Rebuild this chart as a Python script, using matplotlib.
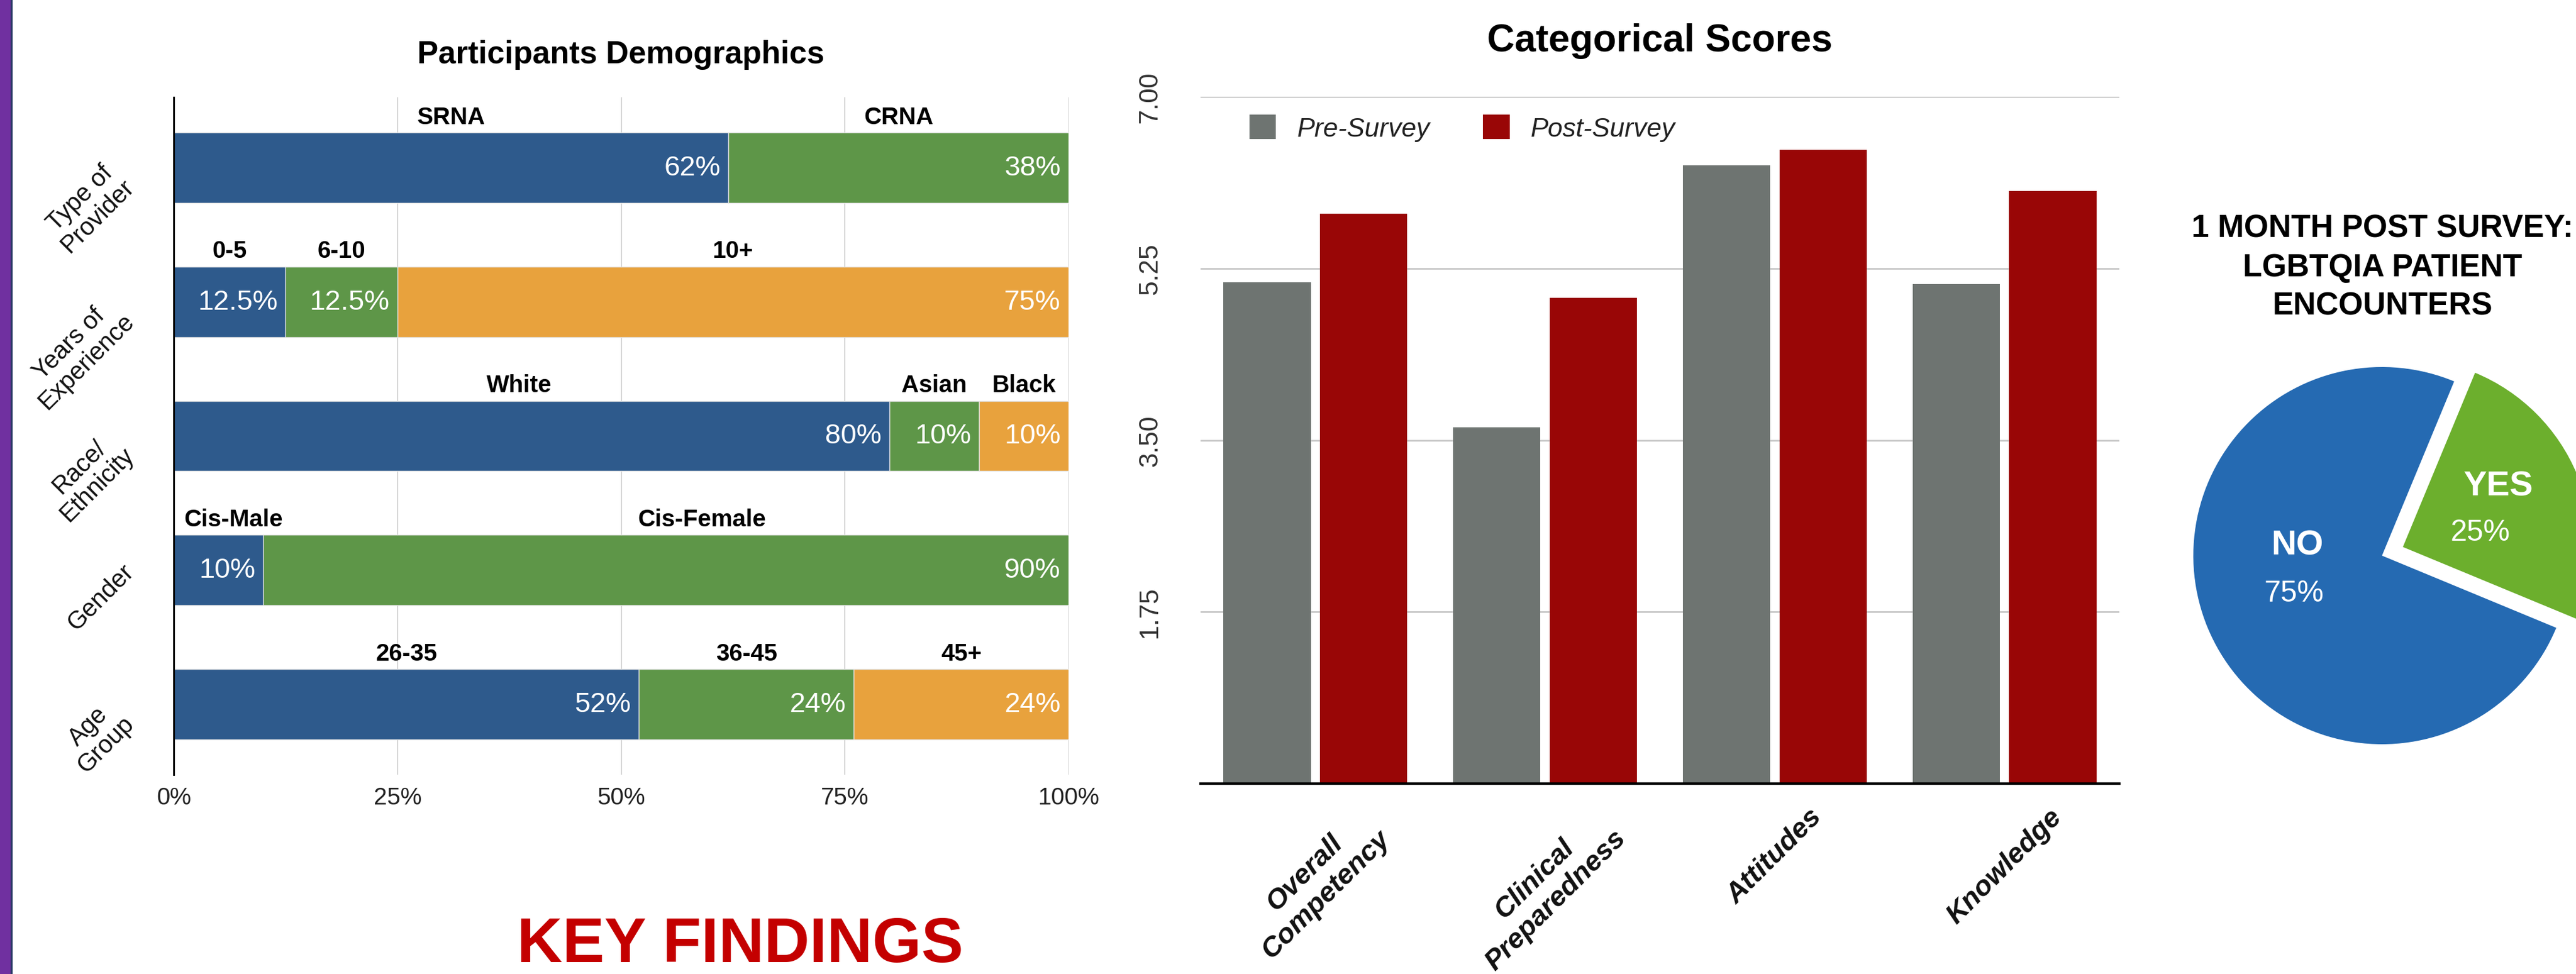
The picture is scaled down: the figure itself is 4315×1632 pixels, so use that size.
import matplotlib
matplotlib.use("Agg")
import matplotlib.pyplot as plt
import matplotlib.transforms as mtransforms
from matplotlib.patches import Rectangle
import numpy as np

plt.rcParams['font.family'] = ['Liberation Sans', 'DejaVu Sans']

# ---- demographics (100% stacked bars) ----
demo_groups = ["Type of\nProvider", "Years of\nExperience", "Race/\nEthnicity", "Gender", "Age\nGroup"]
demo_segments = [
    ["SRNA", "CRNA"],
    ["0-5", "6-10", "10+"],
    ["White", "Asian", "Black"],
    ["Cis-Male", "Cis-Female"],
    ["26-35", "36-45", "45+"],
]
demo_values = [
    [62, 38],
    [12.5, 12.5, 75],
    [80, 10, 10],
    [10, 90],
    [52, 24, 24],
]
pct_ticks = [0, 25, 50, 75, 100]
pct_tick_labels = ["0%", "25%", "50%", "75%", "100%"]

# ---- categorical scores ----
score_categories = ["Overall\nCompetency", "Clinical\nPreparedness", "Attitudes", "Knowledge"]
pre_scores = [5.11, 3.63, 6.30, 5.09]
post_scores = [5.81, 4.95, 6.46, 6.04]
score_ticks = [1.75, 3.50, 5.25, 7.00]

# ---- 1 month post survey pie ----
pie_labels = ["NO", "YES"]
pie_values = [75, 25]

W, H = 4315, 1633
fig = plt.figure(figsize=(W / 100, H / 100), dpi=100)

# purple strip at the left edge
fig.patches.append(Rectangle((0, 0), 18 / W, 1, transform=fig.transFigure, color="#7030A0"))
fig.patches.append(Rectangle((18 / W, 0), 2 / W, 1, transform=fig.transFigure, color="#2B3A67"))

# --- left: Participants Demographics ---
ax1 = fig.add_axes([291 / W, 1 - 1299 / H, 1499 / W, 1135 / H])
seg_colors = ["#2E5A8C", "#5E9648", "#E8A23D"]
header_nudge = {"Cis-Male": 1.7, "Cis-Female": 4.0, "White": -1.4}

for i, (segs, vals) in enumerate(zip(demo_segments, demo_values)):
    left = 0
    for j, (s, v) in enumerate(zip(segs, vals)):
        ax1.barh(i, v, left=left, height=0.525, color=seg_colors[j],
                 edgecolor="#e4e4e4", linewidth=1, zorder=2)
        ax1.text(left + v - 0.9, i, f"{v:g}%", color="white", ha="right", va="center",
                 fontsize=34, zorder=3)
        ax1.text(left + v / 2 + header_nudge.get(s, 0), i - 0.38, s, ha="center", va="center",
                 fontsize=29, fontweight="bold", color="black")
        left += v

ax1.set_xlim(0, 100)
ax1.set_ylim(4.525, -0.525)
ax1.set_xticks(pct_ticks, pct_tick_labels)
ax1.set_yticks([])
ax1.tick_params(axis="x", length=0, labelsize=29, pad=14, colors="#222222")
ax1.xaxis.grid(True, color="#d6d6d6", linewidth=1.5, zorder=0)
ax1.set_axisbelow(True)
for sp in ["top", "right", "bottom"]:
    ax1.spines[sp].set_visible(False)
ax1.spines["left"].set_linewidth(2.2)
ax1.spines["left"].set_color("black")

trans = mtransforms.blended_transform_factory(ax1.transAxes, ax1.transData)
for i, g in enumerate(demo_groups):
    ax1.text(-0.039, i - 0.08, g, transform=trans, rotation=45, ha="right", va="top",
             fontsize=30, multialignment="center", linespacing=1.05, color="#111111")

fig.text(1040 / W, 1 - 106 / H, "Participants Demographics", ha="center", va="baseline",
         fontsize=38, fontweight="bold")

fig.text(1240 / W, 1 - 1612 / H, "KEY FINDINGS", ha="center", va="baseline",
         fontsize=76, fontweight="bold", color="#C40000")

# --- middle: Categorical Scores ---
ax2 = fig.add_axes([2011 / W, 1 - 1314 / H, 1539 / W, 1151 / H])
x = np.arange(len(score_categories))
ax2.bar(x - 0.21, pre_scores, 0.38, color="#6E7471", label="Pre-Survey", zorder=2)
ax2.bar(x + 0.21, post_scores, 0.38, color="#990606", label="Post-Survey", zorder=2)
ax2.set_xlim(-0.5, 3.5)
ax2.set_ylim(0, 7)
ax2.set_yticks(score_ticks, [f"{t:.2f}" for t in score_ticks])
for lbl in ax2.get_yticklabels():
    lbl.set_rotation(90)
    lbl.set_va("center")
ax2.tick_params(axis="y", length=0, labelsize=32, pad=46, colors="#333333")
ax2.set_xticks(x, score_categories)
for lbl in ax2.get_xticklabels():
    lbl.set_rotation(45)
    lbl.set_ha("center")
    lbl.set_fontweight("bold")
    lbl.set_fontstyle("italic")
ax2.tick_params(axis="x", length=0, labelsize=34, pad=24, colors="#111111")
ax2.yaxis.grid(True, color="#c8c8c8", linewidth=2, zorder=0)
ax2.set_axisbelow(True)
for sp in ["top", "right", "left"]:
    ax2.spines[sp].set_visible(False)
ax2.spines["bottom"].set_linewidth(3)
ax2.spines["bottom"].set_color("black")

leg = ax2.legend(loc="upper left", bbox_to_anchor=(0.053, 1 - 30 / 1151), ncol=2, frameon=False,
                 prop={"style": "italic", "size": 32}, handlelength=1.0, handleheight=1.05,
                 handletextpad=0.8, columnspacing=2.0, borderpad=0, borderaxespad=0)
for t in leg.get_texts():
    t.set_color("#222222")

fig.text(2780 / W, 1 - 86 / H, "Categorical Scores", ha="center", va="baseline",
         fontsize=46, fontweight="bold")

# --- right: pie ---
r = 316
cx, cy = 3990, 932
ax3 = fig.add_axes([(cx - 1.4 * r) / W, (H - cy - 1.4 * r) / H, 2.8 * r / W, 2.8 * r / H])
ax3.pie(pie_values, colors=["#256AB2", "#6CAF2D"], startangle=67.5, counterclock=True,
        explode=[0, 0.12], radius=1, wedgeprops=dict(linewidth=0))
ax3.set_xlim(-1.4, 1.4)
ax3.set_ylim(-1.4, 1.4)
ax3.text(-0.45, 0.054, pie_labels[0], color="white", fontsize=42, fontweight="bold", ha="center", va="center")
ax3.text(-0.468, -0.2, f"{pie_values[0]}%", color="white", fontsize=36, ha="center", va="center")
ax3.text(0.614, 0.37, pie_labels[1], color="white", fontsize=42, fontweight="bold", ha="center", va="center")
ax3.text(0.522, 0.123, f"{pie_values[1]}%", color="white", fontsize=36, ha="center", va="center")

pie_title = ["1 MONTH POST SURVEY:", "LGBTQIA PATIENT", "ENCOUNTERS"]
for k, line in enumerate(pie_title):
    fig.text(3991 / W, 1 - (397 + 65.5 * k) / H, line, ha="center", va="baseline",
             fontsize=38, fontweight="bold")

fig.savefig("out.png", dpi=100)
